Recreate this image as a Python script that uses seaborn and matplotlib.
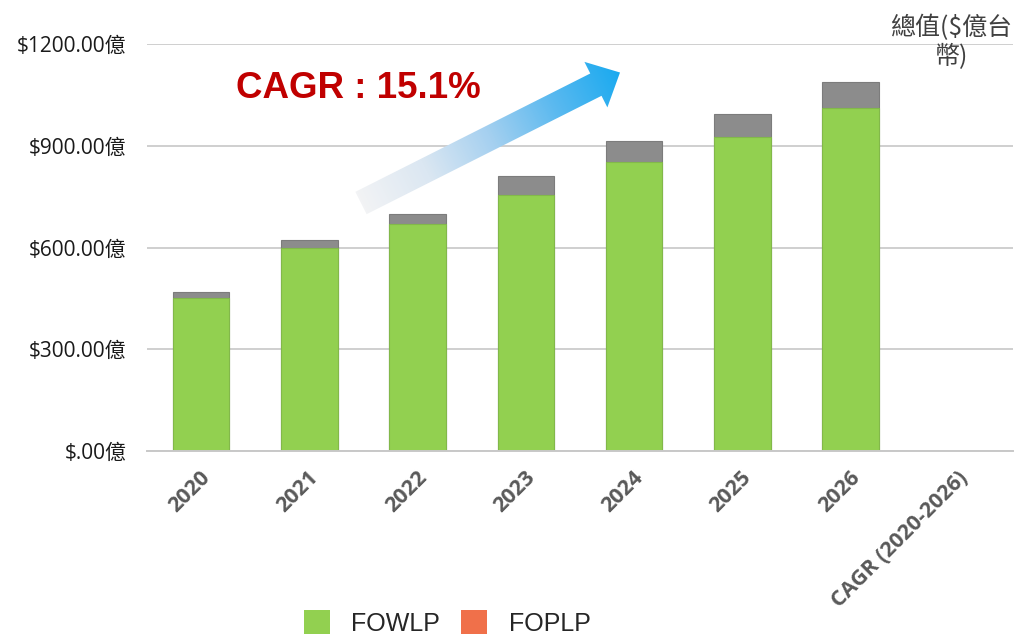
import numpy as np
import pandas as pd
import matplotlib
matplotlib.use("Agg")
import matplotlib.pyplot as plt
import matplotlib.transforms as mtransforms
import seaborn as sns
from matplotlib.patches import Patch, Polygon
from matplotlib.colors import LinearSegmentedColormap

# data (億台幣)
years = ["2020", "2021", "2022", "2023", "2024", "2025", "2026", "CAGR (2020-2026)"]
fowlp = [452, 598, 670, 754, 851, 927, 1012, np.nan]
foplp = [17, 24, 29, 57, 63, 67, 77, np.nan]
y_ticks = [0, 300, 600, 900, 1200]
y_tick_labels = ["$.00億", "$300.00億", "$600.00億", "$900.00億", "$1200.00億"]
legend_labels = ["FOWLP", "FOPLP"]

GREEN = "#92D050"
GRAY = "#8C8C8C"
ORANGE = "#F0704A"

sns.set_style("white")
plt.rcParams["font.family"] = ["Open Sans", "Noto Sans CJK TC", "DejaVu Sans"]

df = pd.DataFrame({
    "year": years,
    "FOWLP": fowlp,
    "total": np.add(fowlp, foplp),
})

fig = plt.figure(figsize=(10.16, 6.36), dpi=100)
ax = fig.add_axes([147 / 1016, 1 - 451 / 636, 866 / 1016, 407 / 636])

# stacked: total (grey top part) first, then FOWLP over it
sns.barplot(data=df, x="year", y="total", order=years, color=GRAY, saturation=1,
            width=0.52, edgecolor="#7c7c7c", linewidth=0.8, ax=ax)
sns.barplot(data=df, x="year", y="FOWLP", order=years, color=GREEN, saturation=1,
            width=0.52, edgecolor="#82b84a", linewidth=0.8, ax=ax)

ax.set_ylim(0, 1200)
ax.set_xlim(-0.5, len(years) - 0.5)
ax.set_yticks(y_ticks)
ax.set_yticklabels(y_tick_labels)
ax.yaxis.grid(True, color="#cfcfcf", linewidth=1.4)
ax.set_axisbelow(True)
for side in ["left", "right", "top"]:
    ax.spines[side].set_visible(False)
ax.spines["bottom"].set_color("#c8c8c8")
ax.spines["bottom"].set_linewidth(1.4)
ax.set_xlabel("")
ax.set_ylabel("")
ax.tick_params(axis="y", length=0, pad=15, labelsize=15, labelcolor="#1a1a1a")
ax.tick_params(axis="x", length=0, pad=17)
ax.set_xticks(range(len(years)))
ax.set_xticklabels(years, rotation=45, ha="right", va="center", rotation_mode="anchor",
                   fontweight="bold", fontsize=15.5, color="#595959")
offset = mtransforms.ScaledTranslation(6 / 100, 0, fig.dpi_scale_trans)
for lbl in ax.get_xticklabels():
    lbl.set_transform(lbl.get_transform() + offset)

# unit label top right
fig.text(951 / 1016, 1 - 42 / 636, "總值($億台\n幣)", ha="center", va="center",
         fontsize=18, color="#404040", linespacing=1.15,
         family=["Noto Sans CJK TC", "DejaVu Sans"])

# overlay for the gradient arrow and CAGR note (pixel coordinates)
ov = fig.add_axes([0, 0, 1, 1], zorder=5)
ov.set_xlim(0, 1016)
ov.set_ylim(636, 0)
ov.axis("off")
ov.patch.set_alpha(0)

tail = np.array([361.0, 203.0])
tip = np.array([620.0, 72.5])
u = (tip - tail) / np.linalg.norm(tip - tail)
n = np.array([-u[1], u[0]])
hw, hhw, hl = 12.5, 25.5, 27.0
base = tip - u * hl
pts = [tail + n * hw, base + n * hw, base + n * hhw, tip,
       base - n * hhw, base - n * hw, tail - n * hw]
arrow = Polygon(pts, closed=True, facecolor="none", edgecolor="none")
ov.add_patch(arrow)

xs = np.linspace(340, 640, 300)
ys = np.linspace(50, 230, 180)
gx, gy = np.meshgrid(xs, ys)
t = ((gx - tail[0]) * u[0] + (gy - tail[1]) * u[1]) / np.linalg.norm(tip - tail)
cmap = LinearSegmentedColormap.from_list(
    "arrow", ["#f2f3f5", "#dbe7f2", "#a5d0f0", "#5ab9ef", "#1aaaf0"])
img = ov.imshow(t, cmap=cmap, vmin=0, vmax=1, extent=(340, 640, 230, 50),
                origin="upper", interpolation="bilinear", aspect="auto")
img.set_clip_path(arrow)

ov.text(236, 88, "CAGR : 15.1%", ha="left", va="center", fontsize=26.5,
        fontweight="bold", color="#C00000", family="Liberation Sans")

# legend (grey part carries no legend entry in the original)
handles = [Patch(facecolor=GREEN, edgecolor="none"),
           Patch(facecolor=ORANGE, edgecolor="none")]
fig.legend(handles, legend_labels, loc="center", bbox_to_anchor=(447 / 1016, 1 - 623 / 636),
           ncol=2, frameon=False, handlelength=1.05, handleheight=1.05,
           handletextpad=0.85, columnspacing=0.85, borderpad=0,
           prop={"family": "Liberation Sans", "size": 18})

fig.savefig("out.png", dpi=100)
